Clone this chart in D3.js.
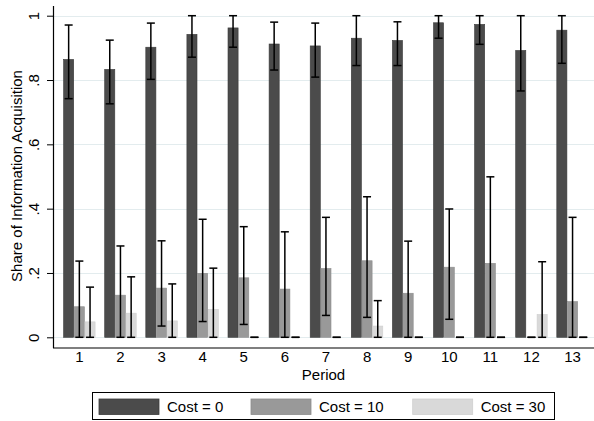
<!DOCTYPE html>
<html><head><meta charset="utf-8">
<script src="https://cdn.jsdelivr.net/npm/d3@7"></script>
<style>body{margin:0;background:#fff}svg{display:block}text{font-family:"Liberation Sans",Arial,Helvetica,sans-serif}</style>
</head><body><svg id="c" width="594" height="421"></svg>
<script>
const periods = ["1","2","3","4","5","6","7","8","9","10","11","12","13"];
const seriesNames = ["Cost = 0","Cost = 10","Cost = 30"];
const cost0   = [0.864,0.833,0.902,0.942,0.962,0.912,0.906,0.930,0.923,0.978,0.973,0.892,0.955];
const cost0Lo = [0.742,0.726,0.802,0.871,0.902,0.831,0.809,0.845,0.845,0.930,0.911,0.766,0.852];
const cost0Hi = [0.971,0.924,0.977,1.0,1.0,0.980,0.977,1.0,0.981,1.0,1.0,1.0,1.0];
const cost10   = [0.095,0.131,0.153,0.199,0.185,0.150,0.214,0.238,0.137,0.218,0.230,0,0.111];
const cost10Lo = [0,0,0.035,0.049,0.040,0,0.068,0.062,0,0.056,0,0,0];
const cost10Hi = [0.237,0.284,0.300,0.367,0.344,0.328,0.373,0.437,0.299,0.399,0.499,0,0.373];
const cost30   = [0.048,0.075,0.051,0.087,0,0,0,0.035,0,0,0,0.071,0];
const cost30Lo = [0,0,0,0,0,0,0,0,0,0,0,0,0];
const cost30Hi = [0.156,0.188,0.166,0.215,0,0,0,0.114,0,0,0,0.235,0];
const yTicks = [0,0.2,0.4,0.6,0.8,1];
const yTickLabels = ["0",".2",".4",".6",".8","1"];
const colors = ["#4b4b4b","#999999","#d9d9d9"];
const strokes = ["#3a3a3a","#8c8c8c","#cfcfcf"];

const vals = [cost0,cost10,cost30], los=[cost0Lo,cost10Lo,cost30Lo], his=[cost0Hi,cost10Hi,cost30Hi];
const svg = d3.select("#c");
const y = d3.scaleLinear().domain([0,1]).range([337.3,15.7]);
const x = d3.scaleBand().domain(periods).range([63.3,588.6]).paddingInner(0.219).paddingOuter(0);
const xs = d3.scaleBand().domain(d3.range(3)).range([0,x.bandwidth()]);

// gridlines
svg.append("g").selectAll("line").data(yTicks).join("line")
  .attr("x1",53).attr("x2",594).attr("y1",d=>Math.round(y(d))+0.5).attr("y2",d=>Math.round(y(d))+0.5)
  .attr("stroke","#e3ecee").attr("stroke-width",1.2);

// bars
const data=[];
periods.forEach((p,i)=>{for(let s=0;s<3;s++)data.push({p,s,v:vals[s][i],lo:los[s][i],hi:his[s][i]});});
svg.append("g").selectAll("rect").data(data.filter(d=>d.v>0)).join("rect")
  .attr("x",d=>x(d.p)+xs(d.s)+0.3).attr("width",xs.bandwidth()-0.6)
  .attr("y",d=>y(d.v)).attr("height",d=>y(0)-y(d.v))
  .attr("fill",d=>colors[d.s]).attr("stroke",d=>strokes[d.s]).attr("stroke-width",0.6);

// error bars
const eb = svg.append("g").attr("stroke","#000").attr("stroke-width",1.5);
data.forEach(d=>{
  const cx = x(d.p)+xs(d.s)+xs.bandwidth()/2;
  eb.append("line").attr("x1",cx).attr("x2",cx).attr("y1",y(d.lo)).attr("y2",y(d.hi));
  eb.append("line").attr("x1",cx-4).attr("x2",cx+4).attr("y1",y(d.lo)).attr("y2",y(d.lo));
  eb.append("line").attr("x1",cx-4).attr("x2",cx+4).attr("y1",y(d.hi)).attr("y2",y(d.hi));
});

// y axis
const yAxis = d3.axisLeft(y).tickValues(yTicks).tickFormat((d,i)=>yTickLabels[i]).tickSize(6).tickSizeOuter(0);
const gy = svg.append("g").attr("transform","translate(53,0)").call(yAxis);
gy.select(".domain").remove();
gy.selectAll(".tick line").attr("stroke","#000");
gy.selectAll(".tick text").attr("x",0).attr("dy",0).attr("transform","translate(-14,0) rotate(-90)")
  .attr("text-anchor","middle").attr("font-size",15).attr("fill","#000");
svg.append("line").attr("x1",53.5).attr("x2",53.5).attr("y1",6).attr("y2",348).attr("stroke","#000").attr("stroke-width",1.2);

// x axis
const xAxis = d3.axisBottom(x).tickSize(0);
const gx = svg.append("g").attr("transform","translate(0,348)").call(xAxis);
gx.select(".domain").remove();
gx.selectAll(".tick text").attr("y",3.8).attr("dy","0.71em").attr("font-size",15).attr("fill","#000");
svg.append("line").attr("x1",53).attr("x2",594).attr("y1",348).attr("y2",348).attr("stroke","#000").attr("stroke-width",1.2);

svg.append("text").attr("x",323.5).attr("y",380).attr("text-anchor","middle").attr("font-size",15).text("Period");
svg.append("text").attr("transform","translate(22,176) rotate(-90)").attr("text-anchor","middle").attr("font-size",15).text("Share of Information Acquisition");

// legend
const lg = svg.append("g");
lg.append("rect").attr("x",92.5).attr("y",392.5).attr("width",462).attr("height",27).attr("fill","#fff").attr("stroke","#000").attr("stroke-width",1);
const lx=[99,251,412.7];
seriesNames.forEach((n,i)=>{
  lg.append("rect").attr("x",lx[i]).attr("y",399).attr("width",60).attr("height",15.5).attr("fill",colors[i]).attr("stroke",strokes[i]).attr("stroke-width",0.8);
  lg.append("text").attr("x",lx[i]+68).attr("y",412).attr("font-size",15).text(n);
});
</script></body></html>
